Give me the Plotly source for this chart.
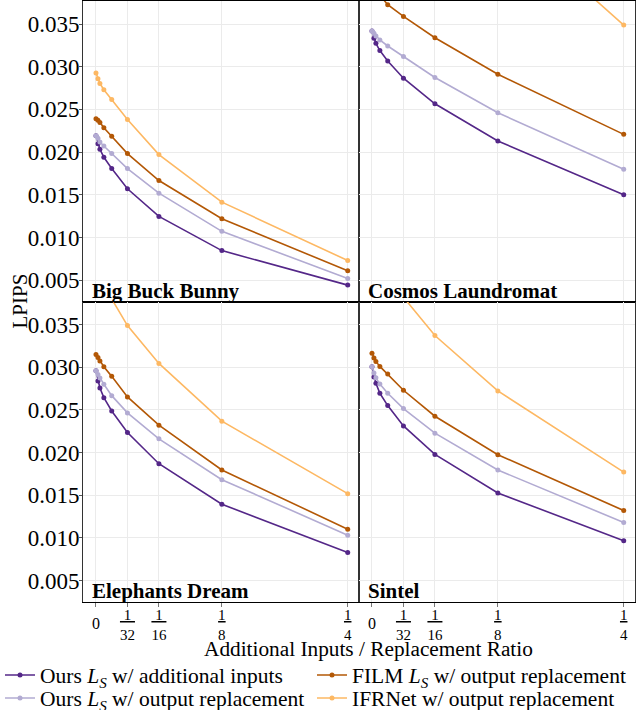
import plotly.graph_objects as go
from plotly.subplots import make_subplots

# ---------------- data ----------------
ratios = [0, 1/512, 1/256, 1/128, 1/64, 1/32, 1/16, 1/8, 1/4]
x_tickvals = [0, 1/32, 1/16, 1/8, 1/4]
x_ticktext = ["", "<u>&nbsp;1&nbsp;</u><br>32", "<u>&nbsp;1&nbsp;</u><br>16", "<u>1</u><br>8", "<u>1</u><br>4"]
x_zero_val = [0]
x_zero_text = ["0"]
y_tickvals = [0.005, 0.010, 0.015, 0.020, 0.025, 0.030, 0.035]
y_ticktext = ["0.005", "0.010", "0.015", "0.020", "0.025", "0.030", "0.035"]

videos = ["Big Buck Bunny", "Cosmos Laundromat", "Elephants Dream", "Sintel"]

bbb_ours_add = [0.02193, 0.02099, 0.02033, 0.01940, 0.01807, 0.01570, 0.01247, 0.00846, 0.00442]
bbb_ours_out = [0.02193, 0.02161, 0.02119, 0.02072, 0.01983, 0.01807, 0.01519, 0.01072, 0.00519]
bbb_film = [0.02391, 0.02372, 0.02348, 0.02286, 0.02185, 0.01983, 0.01667, 0.01220, 0.00609]
bbb_ifrnet = [0.02928, 0.02858, 0.02803, 0.02730, 0.02617, 0.02383, 0.01971, 0.01414, 0.00730]

cl_ours_add = [0.03418, 0.03333, 0.03274, 0.03189, 0.03068, 0.02866, 0.02566, 0.02130, 0.01500]
cl_ours_out = [0.03418, 0.03391, 0.03360, 0.03313, 0.03243, 0.03119, 0.02874, 0.02461, 0.01800]
cl_film = [0.0402, 0.0397, 0.0392, 0.0384, 0.03726, 0.03589, 0.03340, 0.02912, 0.02208]
cl_ifrnet = [0.0850, 0.0838, 0.0825, 0.0805, 0.0774, 0.0707, 0.0618, 0.0480, 0.03488]

ed_ours_add = [0.02959, 0.02839, 0.02757, 0.02644, 0.02488, 0.02235, 0.01870, 0.01395, 0.00831]
ed_ours_out = [0.02959, 0.02916, 0.02874, 0.02800, 0.02667, 0.02465, 0.02161, 0.01683, 0.01033]
ed_film = [0.03150, 0.03115, 0.03072, 0.03006, 0.02893, 0.02652, 0.02321, 0.01796, 0.01103]
ed_ifrnet = [0.0413, 0.0408, 0.0403, 0.0395, 0.0380, 0.03488, 0.03045, 0.02368, 0.01519]

sintel_ours_add = [0.03006, 0.02885, 0.02811, 0.02695, 0.02551, 0.02313, 0.01979, 0.01527, 0.00967]
sintel_ours_out = [0.03006, 0.02932, 0.02877, 0.02803, 0.02695, 0.02516, 0.02228, 0.01796, 0.01181]
sintel_film = [0.03165, 0.03107, 0.03068, 0.03010, 0.02920, 0.02730, 0.02426, 0.01975, 0.01321]
sintel_ifrnet = [0.0440, 0.0434, 0.0427, 0.0418, 0.0406, 0.0382, 0.03372, 0.02722, 0.01772]

series_names = [
    "Ours <i>L</i><sub><i>S</i></sub> w/ additional inputs",
    "Ours <i>L</i><sub><i>S</i></sub> w/ output replacement",
    "FILM <i>L</i><sub><i>S</i></sub> w/ output replacement",
    "IFRNet w/ output replacement",
]
series_colors = ["#542788", "#b2abd2", "#b35806", "#fdb863"]
# one single-entry legend per legend cell: (column, row) of a 2x2 legend grid
series_legend = ["legend", "legend2", "legend3", "legend4"]
legend_cells = {"legend": (0, 0), "legend2": (0, 1), "legend3": (1, 0), "legend4": (1, 1)}

panel_data = [
    [bbb_ours_add, bbb_ours_out, bbb_film, bbb_ifrnet],
    [cl_ours_add, cl_ours_out, cl_film, cl_ifrnet],
    [ed_ours_add, ed_ours_out, ed_film, ed_ifrnet],
    [sintel_ours_add, sintel_ours_out, sintel_film, sintel_ifrnet],
]

FONT = "Liberation Serif, Times New Roman, serif"
X_RANGE = [-0.0129, 0.2612]
Y_RANGE = [0.0025, 0.0377]

fig = make_subplots(rows=2, cols=2, horizontal_spacing=0, vertical_spacing=0,
                    shared_xaxes=True, shared_yaxes=True)

for p, (name, data) in enumerate(zip(videos, panel_data)):
    r, c = p // 2 + 1, p % 2 + 1
    for s in range(4):
        fig.add_trace(go.Scatter(
            x=ratios, y=data[s], mode="lines+markers",
            name=series_names[s],
            line=dict(color=series_colors[s], width=1.6),
            marker=dict(color=series_colors[s], size=5),
            showlegend=(p == 0), legend=series_legend[s],
        ), row=r, col=c)
    fig.add_annotation(text="<b>%s</b>" % name, xref="x%s domain" % ("" if p == 0 else p + 1),
                       yref="y%s domain" % ("" if p == 0 else p + 1),
                       x=0.025, y=0.0, xanchor="left", yanchor="bottom", showarrow=False,
                       font=dict(family=FONT, size=21, color="black"), yshift=-3)

fig.update_xaxes(range=X_RANGE, tickvals=x_tickvals, ticktext=x_ticktext,
                 showgrid=True, gridcolor="#ebebeb", gridwidth=1, zeroline=False,
                 showline=True, linecolor="black", linewidth=1, mirror=True,
                 tickfont=dict(family=FONT, size=15, color="black"))
fig.update_xaxes(ticks="outside", ticklen=4, tickcolor="#777", ticklabelstandoff=-5, row=2)
fig.update_yaxes(range=Y_RANGE, tickvals=y_tickvals, ticktext=y_ticktext,
                 showgrid=True, gridcolor="#ebebeb", gridwidth=1, zeroline=False,
                 showline=True, linecolor="#333", linewidth=1, mirror=True,
                 tickfont=dict(family=FONT, size=23, color="black"))
fig.update_yaxes(ticks="outside", ticklen=3, tickcolor="#555", ticklabelstandoff=-5, col=1)

# overlay axes carrying the "0" tick label, vertically centred on the fractions
zero_axis = dict(range=X_RANGE, tickvals=x_zero_val, ticktext=x_zero_text, side="bottom",
                 showgrid=False, showline=False, zeroline=False, ticks="",
                 ticklabelstandoff=10, tickfont=dict(family=FONT, size=16, color="black"))
fig.update_layout(
    xaxis5=dict(zero_axis, overlaying="x3", anchor="y3"),
    xaxis6=dict(zero_axis, overlaying="x4", anchor="y4"),
)
for xa, ya in (("x5", "y3"), ("x6", "y4")):
    fig.add_trace(go.Scatter(x=[], y=[], xaxis=xa, yaxis=ya, showlegend=False,
                             hoverinfo="skip", mode="lines"))

fig.add_annotation(text="LPIPS", textangle=-90, xref="paper", yref="paper",
                   x=(19 - 83) / 552, y=0.5, xanchor="center", yanchor="middle",
                   showarrow=False, font=dict(family=FONT, size=21, color="black"))
fig.add_annotation(text="Additional Inputs / Replacement Ratio", xref="paper", yref="paper",
                   x=(368 - 83) / 552, y=(602 - 649) / 601, xanchor="center", yanchor="middle",
                   showarrow=False, font=dict(family=FONT, size=21.3, color="black"))

# legend grid placement in pixels (left edge of each column, centre of each row)
col_left_px = [0, 312]
row_mid_px = [675, 698]
legends = {}
for key, (ci, ri) in legend_cells.items():
    legends[key] = dict(orientation="v", xanchor="left", yanchor="middle",
                        x=(col_left_px[ci] - 83) / 552, y=(602 - row_mid_px[ri]) / 601,
                        font=dict(family=FONT, size=21.5, color="black"),
                        bgcolor="rgba(0,0,0,0)", itemwidth=30)
fig.update_layout(
    width=636, height=710,
    margin=dict(l=83, r=1, t=1, b=108, autoexpand=False),
    paper_bgcolor="white", plot_bgcolor="white",
    font=dict(family=FONT, color="black"),
    **legends,
)

fig.write_html("out.html", config={"displayModeBar": False},
               post_script="document.body.style.margin='0';document.body.style.padding='0';")
